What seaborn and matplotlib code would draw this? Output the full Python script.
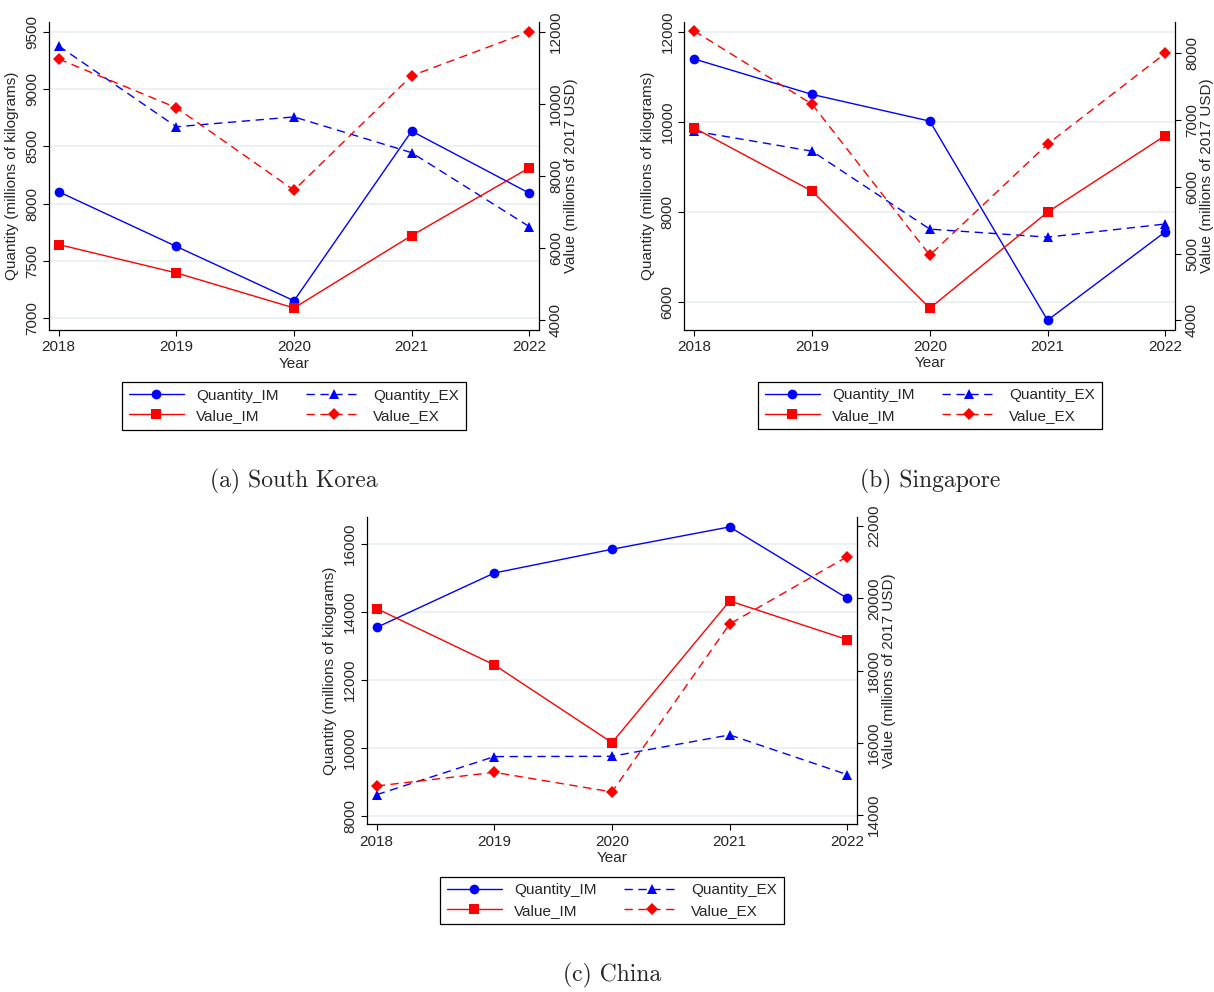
import numpy as np
import pandas as pd
import matplotlib
matplotlib.use("Agg")
import matplotlib.pyplot as plt
import seaborn as sns
from matplotlib.lines import Line2D

sns.set_style("ticks")
plt.rcParams['font.family'] = ['Liberation Sans', 'DejaVu Sans']

# ---------------- data ----------------
years = [2018, 2019, 2020, 2021, 2022]

# South Korea
kor_quantity_im = [8104, 7627, 7153, 8633, 8092]
kor_quantity_ex = [9376, 8671, 8757, 8445, 7800]
kor_value_im = [6102, 5315, 4343, 6352, 8231]
kor_value_ex = [11250, 9898, 7611, 10787, 12009]

# Singapore
sgp_quantity_im = [11393, 10607, 10014, 5593, 7556]
sgp_quantity_ex = [9792, 9347, 7616, 7438, 7730]
sgp_value_im = [6881, 5937, 4184, 5622, 6769]
sgp_value_ex = [8334, 7239, 4978, 6641, 8000]

# China
chn_quantity_im = [13538, 15139, 15836, 16494, 14393]
chn_quantity_ex = [8619, 9738, 9748, 10376, 9208]
chn_value_im = [19713, 18154, 16003, 19926, 18855]
chn_value_ex = [14803, 15181, 14637, 19289, 21153]

captions = ["(a) South Korea", "(b) Singapore", "(c) China"]

left_ticks = [
    [7000, 7500, 8000, 8500, 9000, 9500],
    [6000, 8000, 10000, 12000],
    [8000, 10000, 12000, 14000, 16000],
]
right_ticks = [
    [4000, 6000, 8000, 10000, 12000],
    [4000, 5000, 6000, 7000, 8000],
    [14000, 16000, 18000, 20000, 22000],
]
left_lims = [(6898, 9585), (5387, 12215), (7747, 16794)]
right_lims = [(3731, 12277), (3865, 8469), (13742, 22258)]

panels = [
    (kor_quantity_im, kor_quantity_ex, kor_value_im, kor_value_ex),
    (sgp_quantity_im, sgp_quantity_ex, sgp_value_im, sgp_value_ex),
    (chn_quantity_im, chn_quantity_ex, chn_value_im, chn_value_ex),
]

# ---------------- layout (pixels) ----------------
W, H = 1214, 992
axes_px = [  # left, top, right, bottom
    (48.7, 22.0, 539.3, 330.0),
    (684.3, 22.0, 1175.3, 329.5),
    (366.7, 516.7, 857.3, 824.3),
]
legend_px = [(294.0, 405.7), (929.8, 405.5), (612.0, 900.5)]
caption_px = [(294.0, 481.5), (930.0, 481.5), (612.0, 975.0)]

fig = plt.figure(figsize=(W / 100, H / 100), dpi=100)
fig.patch.set_facecolor("white")

blue = "#0000FF"
red = "#FF0000"
dash = (0, (6, 4))
fs = 11
grid_col = "#E6EEF1"

for i, (q_im, q_ex, v_im, v_ex) in enumerate(panels):
    l, t, r, b = axes_px[i]
    ax = fig.add_axes([l / W, 1 - b / H, (r - l) / W, (b - t) / H])
    ax2 = ax.twinx()

    df = pd.DataFrame({"Year": years, "Quantity_IM": q_im, "Quantity_EX": q_ex,
                       "Value_IM": v_im, "Value_EX": v_ex})

    sns.lineplot(data=df, x="Year", y="Quantity_IM", ax=ax, color=blue,
                 marker="o", markersize=7, markeredgewidth=0, lw=1.0,
                 label="Quantity_IM", legend=False)
    sns.lineplot(data=df, x="Year", y="Quantity_EX", ax=ax, color=blue,
                 marker="^", markersize=7.5, markeredgewidth=0, lw=1.0,
                 linestyle=dash, label="Quantity_EX", legend=False)
    sns.lineplot(data=df, x="Year", y="Value_IM", ax=ax2, color=red,
                 marker="s", markersize=6.5, markeredgewidth=0, lw=1.0,
                 label="Value_IM", legend=False)
    sns.lineplot(data=df, x="Year", y="Value_EX", ax=ax2, color=red,
                 marker="D", markersize=6.5, markeredgewidth=0, lw=1.0,
                 linestyle=dash, label="Value_EX", legend=False)

    ax.set_xlim(2017.915, 2022.085)
    ax.set_ylim(*left_lims[i])
    ax2.set_ylim(*right_lims[i])
    ax.set_xticks(years)
    ax.set_xticklabels([str(y) for y in years])
    ax.set_yticks(left_ticks[i])
    ax.set_yticklabels([str(v) for v in left_ticks[i]])
    ax2.set_yticks(right_ticks[i])
    ax2.set_yticklabels([str(v) for v in right_ticks[i]])

    ax.grid(axis="y", color=grid_col, lw=1.1)
    ax.grid(axis="x", visible=False)
    ax2.grid(False)
    ax.set_axisbelow(True)

    for a in (ax, ax2):
        a.spines["top"].set_visible(False)
        for s in a.spines.values():
            s.set_linewidth(0.9)
            s.set_color("black")
        a.tick_params(axis="both", length=4.5, width=0.8, color="black",
                      labelsize=fs, pad=2.5)
    ax.tick_params(axis="x", pad=3)
    ax.spines["right"].set_visible(False)
    ax2.spines["left"].set_visible(False)
    ax2.spines["bottom"].set_visible(False)

    for lab in ax.get_yticklabels():
        lab.set_rotation(90)
        lab.set_va("center")
    for lab in ax2.get_yticklabels():
        lab.set_rotation(90)
        lab.set_va("center")

    ax.set_xlabel("Year", fontsize=fs, labelpad=1.5)
    ax.set_ylabel("Quantity (millions of kilograms)", fontsize=fs, labelpad=4)
    ax2.set_ylabel("Value (millions of 2017 USD)", fontsize=fs, labelpad=1)

    handles = [
        Line2D([], [], color=blue, marker="o", markersize=7, markeredgewidth=0, lw=1.0),
        Line2D([], [], color=red, marker="s", markersize=6.5, markeredgewidth=0, lw=1.0),
        Line2D([], [], color=blue, marker="^", markersize=7.5, markeredgewidth=0, lw=1.0, linestyle=dash),
        Line2D([], [], color=red, marker="D", markersize=6.5, markeredgewidth=0, lw=1.0, linestyle=dash),
    ]
    labels = ["Quantity_IM", "Value_IM", "Quantity_EX", "Value_EX"]
    lx, ly = legend_px[i]
    leg = fig.legend(handles, labels, loc="center",
                     bbox_to_anchor=(lx / W, 1 - ly / H), ncol=2,
                     fontsize=fs, frameon=True, fancybox=False, framealpha=1,
                     edgecolor="black", handlelength=3.6, handletextpad=0.8,
                     columnspacing=1.8, labelspacing=0.4, borderpad=0.45,
                     borderaxespad=0)
    leg.get_frame().set_linewidth(0.9)

    cx, cy = caption_px[i]
    fig.text(cx / W, 1 - cy / H, captions[i], ha="center", va="center",
             fontsize=17, family=["cmr10", "DejaVu Serif"])

fig.savefig("out.png", dpi=100, facecolor="white")
